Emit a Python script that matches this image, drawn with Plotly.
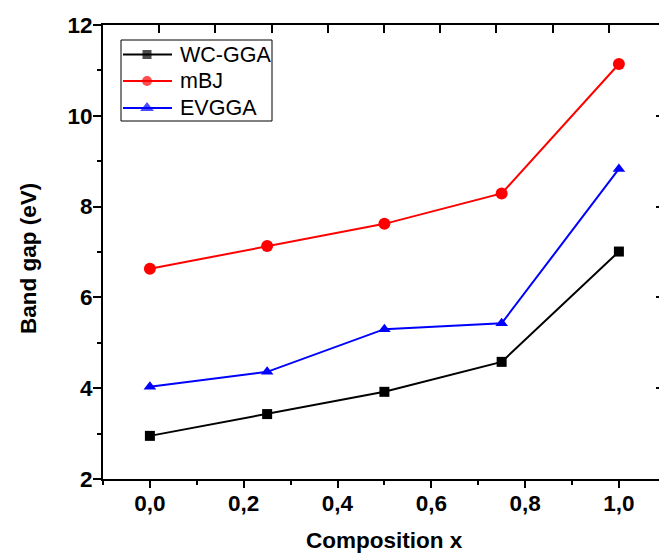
import plotly.graph_objects as go

# Band gap vs composition for three exchange-correlation functionals
composition = [0.0, 0.25, 0.5, 0.75, 1.0]
wc_gga = [2.95, 3.43, 3.92, 4.58, 7.01]
mbj = [6.63, 7.13, 7.62, 8.29, 11.14]
evgga = [4.03, 4.36, 5.30, 5.43, 8.83]

series_names = ["WC-GGA", "mBJ", "EVGGA"]
series_values = [wc_gga, mbj, evgga]
series_colors = ["#000000", "#ff0000", "#0000ff"]
series_symbols = ["square", "circle", "triangle-up"]
series_sizes = [10, 12, 11]

x_tick_vals = [0.0, 0.2, 0.4, 0.6, 0.8, 1.0]
x_tick_text = ["0,0", "0,2", "0,4", "0,6", "0,8", "1,0"]
y_tick_vals = [2, 4, 6, 8, 10, 12]
y_tick_text = ["2", "4", "6", "8", "10", "12"]

W, H = 659, 554
L, T, B = 103, 25, 479  # plot-area edges in pixels (right edge = page edge)
R = W

FONT = "Liberation Sans, Arial, sans-serif"
LABEL_SIZE = 22.5


def px_to_paper(px, py):
    return (px - L) / (R - L), (B - py) / (B - T)


fig = go.Figure()

for name, vals, col, sym, sz in zip(series_names, series_values, series_colors,
                                    series_symbols, series_sizes):
    fig.add_trace(go.Scatter(
        x=composition, y=vals, name=name, mode="lines+markers",
        line=dict(color=col, width=2),
        marker=dict(symbol=sym, size=sz, color=col, line=dict(width=0)),
        showlegend=False, cliponaxis=False,
    ))

# legend drawn on a pixel-coordinate overlay
leg_rows = [54.5, 81, 108]
for name, col, sym, sz, yy in zip(series_names, series_colors, series_symbols,
                                  [9, 10, 12], leg_rows):
    fig.add_trace(go.Scatter(
        x=[123, 147, 172], y=[yy, yy, yy], mode="lines+markers",
        line=dict(color=col, width=2),
        marker=dict(symbol=sym, size=[0, sz, 0], color=col, line=dict(width=0)),
        xaxis="x3", yaxis="y3", showlegend=False, hoverinfo="skip",
    ))

x_per_unit = 469.0
x_min = -0.1
x_max = x_min + (R - L) / x_per_unit

axis_common = dict(showgrid=False, zeroline=False, linecolor="black", linewidth=2,
                   tickcolor="black", tickwidth=2)
tick_font = dict(family=FONT, size=LABEL_SIZE, color="black")

fig.update_layout(
    width=W, height=H,
    margin=dict(l=L, r=0, t=T, b=H - B, pad=0),
    paper_bgcolor="white", plot_bgcolor="white",
    xaxis=dict(range=[x_min, x_max], tickmode="array", tickvals=x_tick_vals,
               ticktext=["<b>%s</b>" % t for t in x_tick_text],
               ticks="outside", ticklen=7, showline=True, tickfont=tick_font,
               minor=dict(ticks="outside", dtick=0.1, tick0=0, ticklen=4,
                          tickwidth=2, tickcolor="black"),
               ticklabelstandoff=-4,
               **axis_common),
    yaxis=dict(range=[2, 12], tickmode="array", tickvals=y_tick_vals,
               ticktext=["<b>%s</b>" % t for t in y_tick_text],
               ticks="outside", ticklen=8, showline=True, tickfont=tick_font,
               minor=dict(ticks="outside", dtick=1, tick0=2, ticklen=4,
                          tickwidth=2, tickcolor="black"),
               ticklabelstandoff=-4,
               **axis_common),
    xaxis2=dict(overlaying="x", side="top", range=[0, (R - L) / 56.2],
                tickmode="linear", tick0=0, dtick=1, ticks="inside", ticklen=8,
                showticklabels=False, showline=True, **axis_common),
    yaxis2=dict(overlaying="y", side="right", range=[2, 12], tickmode="linear",
                tick0=2, dtick=2, ticks="inside", ticklen=3,
                showticklabels=False, showline=False, **axis_common),
    xaxis3=dict(overlaying="x", range=[L, R], visible=False, fixedrange=True),
    yaxis3=dict(overlaying="y", range=[B, T], visible=False, fixedrange=True),
)

# dummy trace to activate the top/right axes
fig.add_trace(go.Scatter(x=[None], y=[None], xaxis="x2", yaxis="y2",
                         showlegend=False, hoverinfo="skip"))

fig.add_shape(type="rect", xref="x3", yref="y3", x0=121, x1=272, y0=40, y1=121,
              line=dict(color="black", width=1), fillcolor="rgba(0,0,0,0)")

for name, yy in zip(series_names, leg_rows):
    fig.add_annotation(x=178, y=yy, xref="x3", yref="y3", text=name,
                       showarrow=False, xanchor="left", yanchor="middle",
                       font=dict(family=FONT, size=21.5, color="black"))

xt, yt = px_to_paper(384.5, 554)
fig.add_annotation(x=xt, y=yt, xref="paper", yref="paper", text="<b>Composition x</b>",
                   showarrow=False, xanchor="center", yanchor="bottom", borderpad=0,
                   font=dict(family=FONT, size=LABEL_SIZE, color="black"))
xt, yt = px_to_paper(28, 259)
fig.add_annotation(x=xt, y=yt, xref="paper", yref="paper", text="<b>Band gap (eV)</b>",
                   showarrow=False, xanchor="center", yanchor="middle", textangle=-90,
                   font=dict(family=FONT, size=LABEL_SIZE, color="black"))

fig.write_html("out.html")
